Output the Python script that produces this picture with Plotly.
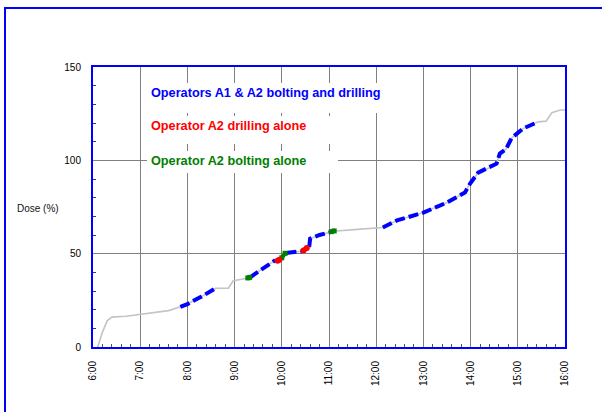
import plotly.graph_objects as go

# ---------------- data ----------------
time_h = [6.10, 6.20, 6.30, 6.40, 6.70, 7.00, 7.20, 7.60, 7.85, 8.00, 8.30, 8.60,
          8.87, 8.97, 9.30, 9.60, 9.86, 9.94, 10.02, 10.08, 10.13, 10.43, 10.53,
          10.58, 10.60, 10.80, 11.02, 11.10, 11.60, 12.14, 12.44, 13.00, 13.50,
          13.88, 13.99, 14.16, 14.40, 14.55, 14.62, 14.75, 14.87, 15.11, 15.43,
          15.60, 15.72, 15.90, 16.00]
dose = [0.0, 8.0, 14.0, 16.0, 16.5, 17.5, 18.5, 19.5, 21.5, 23.0, 27.0, 31.5,
        31.5, 35.5, 37.0, 42.0, 46.5, 46.5, 48.0, 50.0, 50.5, 51.3, 52.5,
        53.5, 58.0, 60.0, 61.4, 62.0, 63.0, 64.0, 67.8, 72.0, 77.4,
        82.8, 87.6, 93.4, 96.0, 98.2, 103.6, 106.0, 112.0, 117.0, 120.6,
        121.0, 125.5, 127.0, 127.0]

blue_time = [7.85, 8.00, 8.30, 8.60, None,
             9.32, 9.60, 9.86, None,
             10.10, 10.13, 10.43, None,
             10.58, 10.60, 10.80, 11.02, None,
             12.14, 12.44, 13.00, 13.50, 13.88, 13.99, 14.16, 14.40, 14.55,
             14.62, 14.75, 14.87, 15.11, 15.43]
blue_dose = [21.5, 23.0, 27.0, 31.5, None,
             37.2, 42.0, 46.5, None,
             50.3, 50.5, 51.3, None,
             53.5, 58.0, 60.0, 61.4, None,
             64.0, 67.8, 72.0, 77.4, 82.8, 87.6, 93.4, 96.0, 98.2,
             103.6, 106.0, 112.0, 117.0, 120.6]

red_time = [9.91, 9.95, None, 10.46, 10.53]
red_dose = [46.2, 46.8, None, 51.7, 53.0]

green_time = [9.28, 9.32, None, 10.00, 10.07, None, 11.05, 11.11]
green_dose = [37.0, 37.3, None, 47.8, 50.2, None, 61.8, 62.2]

hour_vals = [6, 7, 8, 9, 10, 11, 12, 13, 14, 15, 16]
tick_labels = ["6:00", "7:00", "8:00", "9:00", "10:00", "11:00", "12:00",
               "13:00", "14:00", "15:00", "16:00"]

legend_texts = ["Operators A1 & A2 bolting and drilling",
                "Operator A2 drilling alone",
                "Operator A2 bolting alone"]
legend_colors = ["#0000ff", "#ff0000", "#008000"]

# ---------------- layout helpers (pixel -> paper) ----------------
W, H = 602, 412
L, R, T, B = 93, 565, 67, 347   # plot area in pixels


def px(x):
    return (x - L) / (R - L)


def py(y):
    return (B - y) / (B - T)


fig = go.Figure()

fig.add_trace(go.Scatter(x=time_h, y=dose, mode="lines",
                         line=dict(color="#c4c4c4", width=1.6),
                         hoverinfo="skip", showlegend=False))
fig.add_trace(go.Scatter(x=blue_time, y=blue_dose, mode="lines",
                         line=dict(color="#0000ff", width=4, dash="10px,4px"),
                         connectgaps=False, showlegend=False))
fig.add_trace(go.Scatter(x=green_time, y=green_dose, mode="lines+markers",
                         line=dict(color="#008000", width=4),
                         marker=dict(color="#008000", size=5, symbol="square"),
                         connectgaps=False, showlegend=False))
fig.add_trace(go.Scatter(x=red_time, y=red_dose, mode="lines+markers",
                         line=dict(color="#ff0000", width=5),
                         marker=dict(color="#ff0000", size=6),
                         connectgaps=False, showlegend=False))

# white text boxes covering the gridlines (no data underneath them)
boxes = [(145, 83, 400, 113), (145, 116, 338, 144), (147, 151, 338, 173)]
shapes = []
for (x0, y0, x1, y1) in boxes:
    shapes.append(dict(type="rect", xref="paper", yref="paper",
                       x0=px(x0), x1=px(x1), y0=py(y1), y1=py(y0),
                       fillcolor="white", line=dict(width=0), layer="above"))
# outer chart border
shapes.append(dict(type="rect", xref="paper", yref="paper",
                   x0=px(5), x1=px(640), y0=py(450), y1=py(8),
                   fillcolor="rgba(0,0,0,0)", line=dict(color="#0000ff", width=2),
                   layer="above"))

annotations = []
text_y = [93, 126, 161]
for txt, col, yy in zip(legend_texts, legend_colors, text_y):
    annotations.append(dict(text="<b>%s</b>" % txt, xref="paper", yref="paper",
                            x=px(149), y=py(yy), xanchor="left", yanchor="middle",
                            showarrow=False,
                            font=dict(family="Liberation Sans, Arial", size=12.7,
                                      color=col)))
annotations.append(dict(text="Dose (%)", xref="paper", yref="paper",
                        x=px(38), y=py(208), xanchor="center", yanchor="middle",
                        showarrow=False,
                        font=dict(family="Liberation Sans, Arial", size=10,
                                  color="#111111")))

fig.update_layout(
    width=W, height=H,
    margin=dict(l=L, r=W - R, t=T, b=H - B, pad=0),
    paper_bgcolor="white", plot_bgcolor="white",
    showlegend=False,
    shapes=shapes, annotations=annotations,
    font=dict(family="Liberation Sans, Arial", size=10, color="#000000"),
)

fig.update_xaxes(range=[6, 16], tickmode="linear", tick0=6, dtick=1,
                 labelalias={str(v): lab for v, lab in zip(hour_vals, tick_labels)},
                 tickangle=-90,
                 showgrid=True, gridcolor="#808080", gridwidth=1,
                 showline=True, linecolor="#0000ff", linewidth=2, mirror=True,
                 ticks="", ticklabelstandoff=8, zeroline=False,
                 tickfont=dict(size=10, color="#000000"),
                 minor=dict(tickmode="linear", dtick=0.2, tick0=6, ticks="inside",
                            ticklen=3, tickcolor="#555555", showgrid=False))
fig.update_yaxes(range=[0, 150], tickmode="linear", tick0=0, dtick=50,
                 showgrid=True, gridcolor="#808080", gridwidth=1,
                 showline=True, linecolor="#0000ff", linewidth=2, mirror=True,
                 ticks="", ticklabelstandoff=8, zeroline=False,
                 tickfont=dict(size=10, color="#000000"),
                 minor=dict(tickmode="linear", dtick=10, tick0=0, ticks="inside",
                            ticklen=3, tickcolor="#3333aa", showgrid=False))

# remove the default page margin so the figure sits at the window origin
fig.write_html("out.html",
               config={"displayModeBar": False},
               post_script="document.body.style.margin='0';"
                           "document.documentElement.style.overflow='hidden';")
